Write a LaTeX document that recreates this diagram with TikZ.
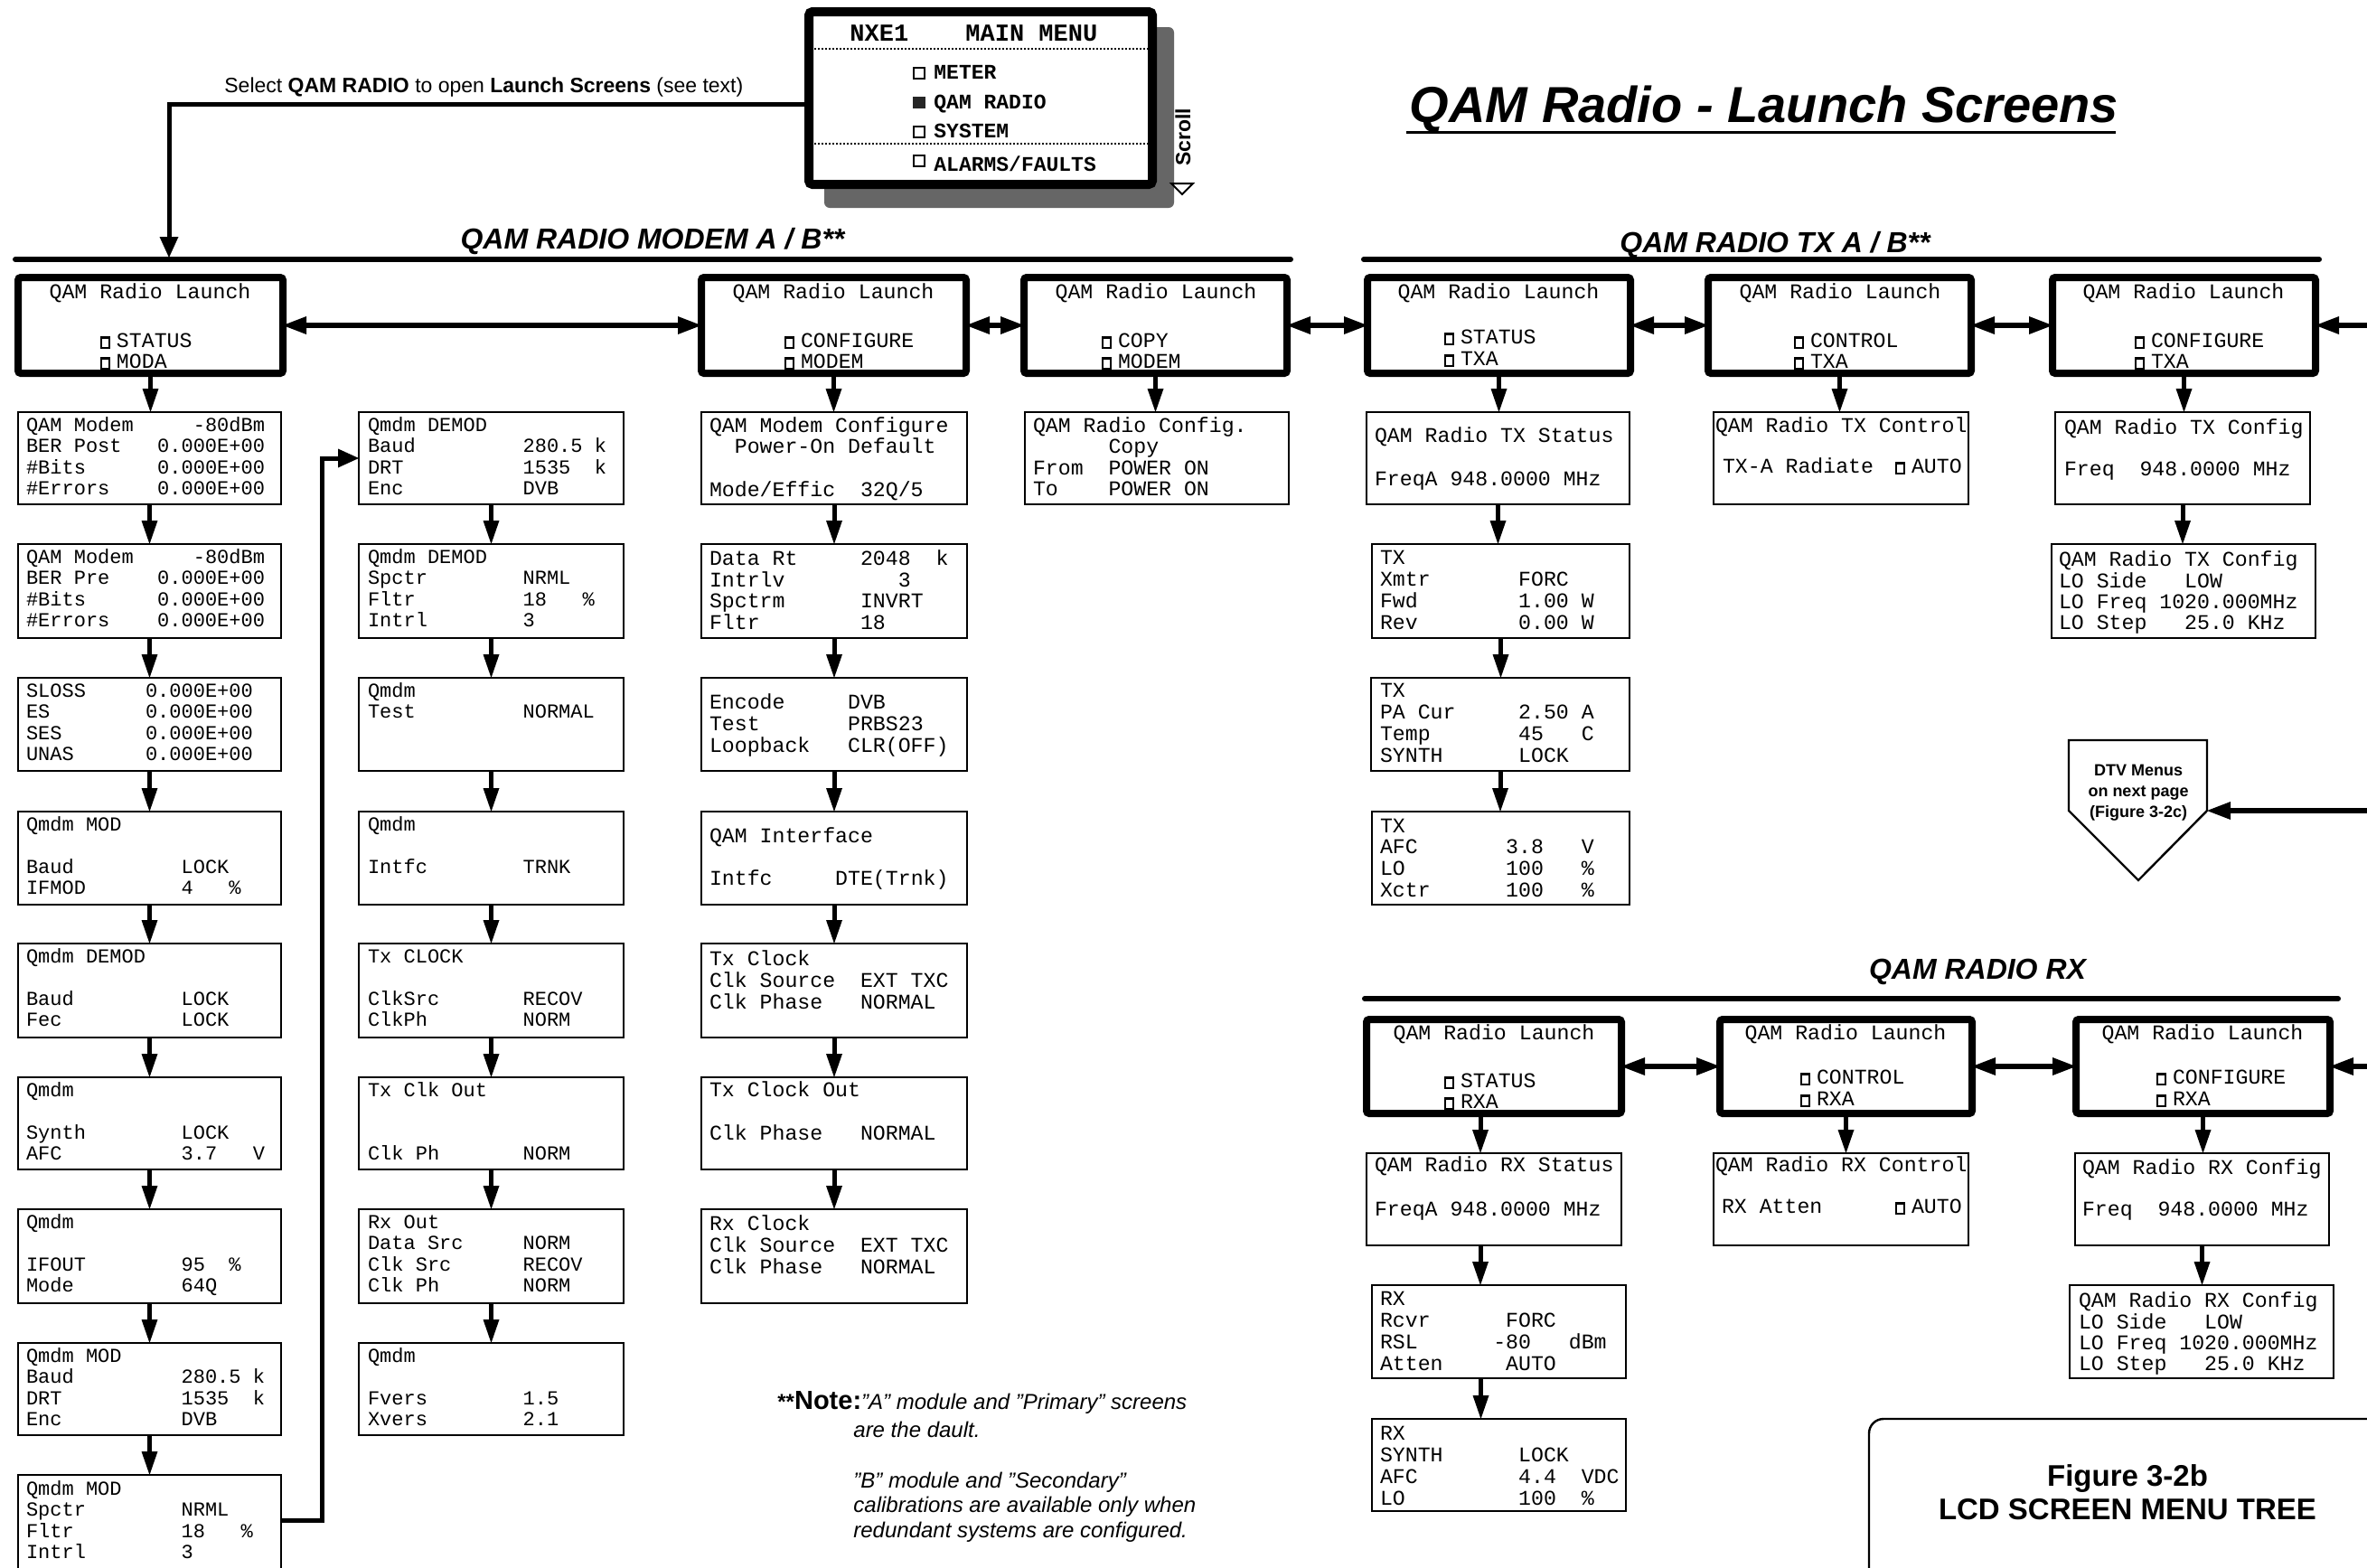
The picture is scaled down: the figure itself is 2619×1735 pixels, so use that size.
\documentclass[tikz,border=0pt]{standalone}
\usepackage{fontspec}
\setmainfont{Liberation Sans}
\newfontfamily\lcdfam{Liberation Mono}
\usetikzlibrary{arrows.meta}
\newcommand\lcdA{\lcdfam\fontsize{11pt}{10pt}\selectfont}
\newcommand\lcdB{\lcdfam\fontsize{11.6pt}{10pt}\selectfont}
\newcommand\headfont{\bfseries\itshape\fontsize{16pt}{18pt}\selectfont}
\newcommand\menufont{\lcdfam\bfseries\fontsize{11.5pt}{12pt}\selectfont}
\newcommand\lcdchk{\makebox[9pt][l]{\setlength\fboxsep{0pt}\setlength\fboxrule{1.2pt}\fbox{\rule{0pt}{4.6pt}\rule{3.1pt}{0pt}}}}
\tikzset{
 thinbox/.style={draw,line width=1.2pt,inner sep=0pt,outer sep=0pt},
 launchbox/.style={draw,line width=4pt,rounded corners=1.5pt,inner sep=0pt,outer sep=0pt},
 lcdt/.style={anchor=north west,inner sep=0pt,outer sep=0pt},
 ltitle/.style={anchor=base,inner sep=0pt,font=\lcdB},
 varr/.style={line width=2.5pt,-{Triangle[length=13pt,width=9pt,line width=0pt]}},
 sarr/.style={line width=3pt,-{Triangle[length=13pt,width=10pt,line width=0pt]}},
 darr/.style={line width=3pt,{Triangle[length=13pt,width=10pt,line width=0pt]}-{Triangle[length=13pt,width=10pt,line width=0pt]}},
 conn/.style={line width=2.5pt,-{Triangle[length=11.5pt,width=10.5pt,line width=0pt]}},
 hrule/.style={line width=3pt,line cap=round},
 plain/.style={anchor=base west,inner sep=0pt},
}
\newcommand\mybox[6][thinbox]{\node[#1,anchor=north west,minimum width={(#5-#3)*0.5pt},minimum height={(#6-#4)*0.5pt}] (#2) at (#3,#4) {};}
\newcommand\lcdtxt[6][\lcdA]{\pgfmathsetmacro\lcdas{#5/20}\node[lcdt,font=#1] (#2) at (#3,{#4-0.7*#5+7}) {\renewcommand\arraystretch{\lcdas}\begin{tabular}[t]{@{}l@{}}#6\end{tabular}};}
\newcommand\downarr[3][0pt]{\path ([xshift=#1]#2.south) coordinate (vtmp); \draw[varr] (vtmp) -- (vtmp |- #3.north);}
\begin{document}
\begin{tikzpicture}[x=0.5pt,y=-0.5pt]
\useasboundingbox (0,0) rectangle (2619,1735);
\fill[white] (0,0) rectangle (2619,1735);

% ---------- title
\node[anchor=base,inner sep=0pt,font=\bfseries\itshape\fontsize{28pt}{30pt}\selectfont] (title) at (1952,135) {QAM Radio - Launch Screens};
\draw[line width=1.5pt] (1556,146) -- (2341,146);

% ---------- main menu
\fill[black!60,rounded corners=3pt] (912,30) rectangle (1299,230);
\node[draw,line width=5pt,fill=white,rounded corners=2pt,inner sep=0pt,outer sep=0pt,anchor=north west,minimum width=190pt,minimum height=95.5pt] (menu) at (895,13) {};
\draw[line width=1pt,dash pattern=on 1pt off 1pt] (901,54) -- (1270,54);
\draw[line width=1pt,dash pattern=on 1pt off 1pt] (901,159) -- (1270,159);
\node[plain,font=\lcdfam\bfseries\fontsize{13.5pt}{14pt}\selectfont] (mt1) at (940,45) {NXE1};
\node[plain,font=\lcdfam\bfseries\fontsize{13.5pt}{14pt}\selectfont] (mt2) at (1068,45) {MAIN MENU};
\draw[line width=1pt] (1011,75) rectangle (1023,87);
\node[plain,font=\menufont] (mi1) at (1033,87) {METER};
\fill[black!85] (1010,107) rectangle (1024,120);
\node[plain,font=\menufont] (mi2) at (1033,120) {QAM RADIO};
\draw[line width=1pt] (1011,140) rectangle (1023,152);
\node[plain,font=\menufont] (mi3) at (1033,152) {SYSTEM};
\draw[line width=1pt] (1011,172) rectangle (1023,184);
\node[plain,font=\menufont] (mi4) at (1033,189) {ALARMS/FAULTS};
\node[rotate=90,inner sep=0pt,font=\bfseries\fontsize{11.5pt}{12pt}\selectfont] (scroll) at (1309,152) {Scroll};
\draw[line width=1pt] (1296,203) -- (1320,203) -- (1308,215) -- cycle;

% ---------- select label and connector
\node[plain,font=\fontsize{11.5pt}{13pt}\selectfont] (sel) at (248,102) {Select \textbf{QAM RADIO} to open \textbf{Launch Screens} (see text)};
\coordinate (rulehit) at (187,285);
\draw[conn] (menu.west |- 0,115) -| (rulehit);

% ---------- headings
\node[anchor=base,inner sep=0pt,font=\headfont] (hmod) at (722,275) {QAM RADIO MODEM A / B**};
\draw[hrule] (17,287) -- (1428,287);
\node[anchor=base,inner sep=0pt,font=\headfont] (htx) at (1964,279) {QAM RADIO TX A / B**};
\draw[hrule] (1509,287) -- (2566,287);
\node[anchor=base,inner sep=0pt,font=\headfont] (hrx) at (2188,1083) {QAM RADIO RX};
\draw[hrule] (1510,1105) -- (2587,1105);

% ---------- launch boxes
\mybox[launchbox]{l1}{20}{307}{313}{413}
\mybox[launchbox]{l2}{776}{307}{1069}{413}
\mybox[launchbox]{l3}{1133}{307}{1424}{413}
\mybox[launchbox]{lt1}{1513}{307}{1804}{413}
\mybox[launchbox]{lt2}{1890}{307}{2181}{413}
\mybox[launchbox]{lt3}{2271}{307}{2562}{413}
\mybox[launchbox]{lr1}{1512}{1128}{1794}{1232}
\mybox[launchbox]{lr2}{1903}{1128}{2182}{1232}
\mybox[launchbox]{lr3}{2297}{1128}{2578}{1232}
\node[ltitle] (l1t) at (166,330) {QAM Radio Launch};
\node[ltitle] (l2t) at (922,330) {QAM Radio Launch};
\node[ltitle] (l3t) at (1279,330) {QAM Radio Launch};
\node[ltitle] (lt1t) at (1658,330) {QAM Radio Launch};
\node[ltitle] (lt2t) at (2036,330) {QAM Radio Launch};
\node[ltitle] (lt3t) at (2416,330) {QAM Radio Launch};
\node[ltitle] (lr1t) at (1653,1150) {QAM Radio Launch};
\node[ltitle] (lr2t) at (2042,1150) {QAM Radio Launch};
\node[ltitle] (lr3t) at (2437,1150) {QAM Radio Launch};
\lcdtxt[\lcdB]{l1i}{111}{377}{23}{\lcdchk STATUS\\\lcdchk MODA}
\lcdtxt[\lcdB]{l2i}{868}{377}{23}{\lcdchk CONFIGURE\\\lcdchk MODEM}
\lcdtxt[\lcdB]{l3i}{1219}{377}{23}{\lcdchk COPY\\\lcdchk MODEM}
\lcdtxt[\lcdB]{lt1i}{1598}{373}{24}{\lcdchk STATUS\\\lcdchk TXA}
\lcdtxt[\lcdB]{lt2i}{1985}{377}{23}{\lcdchk CONTROL\\\lcdchk TXA}
\lcdtxt[\lcdB]{lt3i}{2362}{377}{23}{\lcdchk CONFIGURE\\\lcdchk TXA}
\lcdtxt[\lcdB]{lr1i}{1598}{1196}{23}{\lcdchk STATUS\\\lcdchk RXA}
\lcdtxt[\lcdB]{lr2i}{1992}{1192}{24}{\lcdchk CONTROL\\\lcdchk RXA}
\lcdtxt[\lcdB]{lr3i}{2386}{1192}{24}{\lcdchk CONFIGURE\\\lcdchk RXA}

% ---------- column 1 (status)
\mybox{c1b1}{20}{456}{311}{558}
\mybox{c1b2}{20}{602}{311}{706}
\mybox{c1b3}{20}{750}{311}{853}
\mybox{c1b4}{20}{898}{311}{1001}
\mybox{c1b5}{20}{1044}{311}{1148}
\mybox{c1b6}{20}{1192}{311}{1294}
\mybox{c1b7}{20}{1338}{311}{1442}
\mybox{c1b8}{20}{1486}{311}{1588}
\mybox{c1b9}{20}{1632}{311}{1745}
\lcdtxt{c1t1}{29}{470.6}{23.3}{QAM~Modem~~~~~-80dBm\\BER~Post~~~0.000E+00\\\#Bits~~~~~~0.000E+00\\\#Errors~~~~0.000E+00}
\lcdtxt{c1t2}{29}{616.6}{23.3}{QAM~Modem~~~~~-80dBm\\BER~Pre~~~~0.000E+00\\\#Bits~~~~~~0.000E+00\\\#Errors~~~~0.000E+00}
\lcdtxt{c1t3}{29}{764.6}{23.3}{SLOSS~~~~~0.000E+00\\ES~~~~~~~~0.000E+00\\SES~~~~~~~0.000E+00\\UNAS~~~~~~0.000E+00}
\lcdtxt{c1t4}{29}{912.6}{23.3}{Qmdm~MOD\\ \\Baud~~~~~~~~~LOCK\\IFMOD~~~~~~~~4~~~\%}
\lcdtxt{c1t5}{29}{1058.6}{23.3}{Qmdm~DEMOD\\ \\Baud~~~~~~~~~LOCK\\Fec~~~~~~~~~~LOCK}
\lcdtxt{c1t6}{29}{1206.6}{23.3}{Qmdm\\ \\Synth~~~~~~~~LOCK\\AFC~~~~~~~~~~3.7~~~V}
\lcdtxt{c1t7}{29}{1352.6}{23.3}{Qmdm\\ \\IFOUT~~~~~~~~95~~\%\\Mode~~~~~~~~~64Q}
\lcdtxt{c1t8}{29}{1500.6}{23.3}{Qmdm~MOD\\Baud~~~~~~~~~280.5~k\\DRT~~~~~~~~~~1535~~k\\Enc~~~~~~~~~~DVB}
\lcdtxt{c1t9}{29}{1647.6}{23.3}{Qmdm~MOD\\Spctr~~~~~~~~NRML\\Fltr~~~~~~~~~18~~~\%\\Intrl~~~~~~~~3}
\downarr{l1}{c1b1}
\downarr{c1b1}{c1b2}
\downarr{c1b2}{c1b3}
\downarr{c1b3}{c1b4}
\downarr{c1b4}{c1b5}
\downarr{c1b5}{c1b6}
\downarr{c1b6}{c1b7}
\downarr{c1b7}{c1b8}
\downarr{c1b8}{c1b9}

% ---------- column 2
\mybox{c2b1}{397}{456}{690}{558}
\mybox{c2b2}{397}{602}{690}{706}
\mybox{c2b3}{397}{750}{690}{853}
\mybox{c2b4}{397}{898}{690}{1001}
\mybox{c2b5}{397}{1044}{690}{1148}
\mybox{c2b6}{397}{1192}{690}{1294}
\mybox{c2b7}{397}{1338}{690}{1442}
\mybox{c2b8}{397}{1486}{690}{1588}
\lcdtxt{c2t1}{407}{470.6}{23.3}{Qmdm~DEMOD\\Baud~~~~~~~~~280.5~k\\DRT~~~~~~~~~~1535~~k\\Enc~~~~~~~~~~DVB}
\lcdtxt{c2t2}{407}{616.6}{23.3}{Qmdm~DEMOD\\Spctr~~~~~~~~NRML\\Fltr~~~~~~~~~18~~~\%\\Intrl~~~~~~~~3}
\lcdtxt{c2t3}{407}{764.6}{23.3}{Qmdm\\Test~~~~~~~~~NORMAL}
\lcdtxt{c2t4}{407}{912.6}{23.3}{Qmdm\\ \\Intfc~~~~~~~~TRNK}
\lcdtxt{c2t5}{407}{1058.6}{23.3}{Tx~CLOCK\\ \\ClkSrc~~~~~~~RECOV\\ClkPh~~~~~~~~NORM}
\lcdtxt{c2t6}{407}{1206.6}{23.3}{Tx~Clk~Out\\ \\ \\Clk~Ph~~~~~~~NORM}
\lcdtxt{c2t7}{407}{1352.6}{23.3}{Rx~Out\\Data~Src~~~~~NORM\\Clk~Src~~~~~~RECOV\\Clk~Ph~~~~~~~NORM}
\lcdtxt{c2t8}{407}{1500.6}{23.3}{Qmdm\\ \\Fvers~~~~~~~~1.5\\Xvers~~~~~~~~2.1}
\downarr{c2b1}{c2b2}
\downarr{c2b2}{c2b3}
\downarr{c2b3}{c2b4}
\downarr{c2b4}{c2b5}
\downarr{c2b5}{c2b6}
\downarr{c2b6}{c2b7}
\downarr{c2b7}{c2b8}
\coordinate (bend) at (356,507);
\draw[conn] (c1b9.east |- 0,1682) -| (bend) -- (c2b1.west |- bend);

% ---------- column 3 (configure)
\mybox{c3b1}{776}{456}{1070}{558}
\mybox{c3b2}{776}{602}{1070}{706}
\mybox{c3b3}{776}{750}{1070}{853}
\mybox{c3b4}{776}{898}{1070}{1001}
\mybox{c3b5}{776}{1044}{1070}{1148}
\mybox{c3b6}{776}{1192}{1070}{1294}
\mybox{c3b7}{776}{1338}{1070}{1442}
\lcdtxt[\lcdB]{c3t1}{785}{470.6}{23.3}{QAM~Modem~Configure\\~~Power-On~Default\\ \\Mode/Effic~~32Q/5}
\lcdtxt[\lcdB]{c3t2}{785}{618}{23.5}{Data~Rt~~~~~2048~~k\\Intrlv~~~~~~~~~3\\Spctrm~~~~~~INVRT\\Fltr~~~~~~~~18}
\lcdtxt[\lcdB]{c3t3}{785}{777}{24}{Encode~~~~~DVB\\Test~~~~~~~PRBS23\\Loopback~~~CLR(OFF)}
\lcdtxt[\lcdB]{c3t4}{785}{925}{23}{QAM~Interface\\ \\Intfc~~~~~DTE(Trnk)}
\lcdtxt[\lcdB]{c3t5}{785}{1061}{23}{Tx~Clock\\Clk~Source~~EXT~TXC\\Clk~Phase~~~NORMAL}
\lcdtxt[\lcdB]{c3t6}{785}{1206}{24}{Tx~Clock~Out\\ \\Clk~Phase~~~NORMAL}
\lcdtxt[\lcdB]{c3t7}{785}{1354}{23}{Rx~Clock\\Clk~Source~~EXT~TXC\\Clk~Phase~~~NORMAL}
\downarr{l2}{c3b1}
\downarr{c3b1}{c3b2}
\downarr{c3b2}{c3b3}
\downarr{c3b3}{c3b4}
\downarr{c3b4}{c3b5}
\downarr{c3b5}{c3b6}
\downarr{c3b6}{c3b7}

% ---------- column 4 (copy)
\mybox{c4b1}{1134}{456}{1426}{558}
\lcdtxt[\lcdB]{c4t1}{1143}{471}{23.3}{QAM~Radio~Config.\\~~~~~~Copy\\From~~POWER~ON\\To~~~~POWER~ON}
\downarr{l3}{c4b1}

% ---------- double arrows (top row)
\draw[darr] (l1.east) -- (l2.west);
\draw[darr] (l2.east) -- (l3.west);
\draw[darr] (l3.east) -- (lt1.west);
\draw[darr] (lt1.east) -- (lt2.west);
\draw[darr] (lt2.east) -- (lt3.west);
\coordinate (edgeT) at (2630,360);
\draw[sarr] (edgeT) -- (lt3.east);

% ---------- TX status column
\mybox{txs1}{1512}{456}{1803}{558}
\mybox{txs2}{1518}{602}{1803}{706}
\mybox{txs3}{1517}{750}{1803}{853}
\mybox{txs4}{1518}{898}{1803}{1001}
\lcdtxt[\lcdB]{txt1}{1521}{482}{24}{QAM~Radio~TX~Status\\ \\FreqA~948.0000~MHz}
\lcdtxt[\lcdB]{txt2}{1527}{617}{24.3}{TX\\Xmtr~~~~~~~FORC\\Fwd~~~~~~~~1.00~W\\Rev~~~~~~~~0.00~W}
\lcdtxt[\lcdB]{txt3}{1527}{764}{24.3}{TX\\PA~Cur~~~~~2.50~A\\Temp~~~~~~~45~~~C\\SYNTH~~~~~~LOCK}
\lcdtxt[\lcdB]{txt4}{1527}{914}{23.7}{TX\\AFC~~~~~~~3.8~~~V\\LO~~~~~~~~100~~~\%\\Xctr~~~~~~100~~~\%}
\downarr{lt1}{txs1}
\downarr{txs1}{txs2}
\downarr{txs2}{txs3}
\downarr{txs3}{txs4}

% ---------- TX control / config
\mybox{txc}{1896}{456}{2178}{558}
\lcdtxt[\lcdB]{txct1}{1898}{471}{23}{QAM~Radio~TX~Control}
\lcdtxt[\lcdB]{txct2}{1906}{516}{23}{TX-A~Radiate}
\lcdtxt[\lcdB]{txct3}{2097}{516}{23}{\lcdchk AUTO}
\downarr{lt2}{txc}
\mybox{txg1}{2274}{456}{2556}{558}
\mybox{txg2}{2270}{602}{2562}{706}
\lcdtxt[\lcdB]{txgt1}{2284}{473}{23}{QAM~Radio~TX~Config\\ \\Freq~~948.0000~MHz}
\lcdtxt[\lcdB]{txgt2}{2278}{619}{23.3}{QAM~Radio~TX~Config\\LO~Side~~~LOW\\LO~Freq~1020.000MHz\\LO~Step~~~25.0~KHz}
\downarr{lt3}{txg1}
\downarr{txg1}{txg2}

% ---------- DTV pentagon
\draw[line width=1.2pt] (2289,819) -- (2442,819) -- (2442,897) -- (2366,974) -- (2289,897) -- cycle;
\node[align=center,inner sep=0pt,font=\bfseries\fontsize{9pt}{11.5pt}\selectfont] (dtv) at (2366,877) {DTV Menus\\on next page\\(Figure 3-2c)};
\coordinate (dtvE) at (2442,897);
\coordinate (edgeD) at (2630,897);
\draw[sarr] (edgeD) -- (dtvE);

% ---------- RX section
\draw[darr] (lr1.east) -- (lr2.west);
\draw[darr] (lr2.east) -- (lr3.west);
\coordinate (edgeR) at (2630,1180);
\draw[sarr] (edgeR) -- (lr3.east);
\mybox{rxs1}{1512}{1276}{1794}{1378}
\mybox{rxs2}{1518}{1422}{1799}{1525}
\mybox{rxs3}{1518}{1570}{1799}{1672}
\lcdtxt[\lcdB]{rxt1}{1521}{1289}{24.5}{QAM~Radio~RX~Status\\ \\FreqA~948.0000~MHz}
\lcdtxt[\lcdB]{rxt2}{1527}{1437}{24}{RX\\Rcvr~~~~~~FORC\\RSL~~~~~~-80~~~dBm\\Atten~~~~~AUTO}
\lcdtxt[\lcdB]{rxt3}{1527}{1586}{24.3}{RX\\SYNTH~~~~~~LOCK\\AFC~~~~~~~~4.4~~VDC\\LO~~~~~~~~~100~~\%}
\downarr[-7.5pt]{lr1}{rxs1}
\downarr[-7.5pt]{rxs1}{rxs2}
\downarr[-10pt]{rxs2}{rxs3}
\mybox{rxc}{1896}{1276}{2178}{1378}
\lcdtxt[\lcdB]{rxct1}{1898}{1289}{23}{QAM~Radio~RX~Control}
\lcdtxt[\lcdB]{rxct2}{1905}{1335}{23}{RX~Atten}
\lcdtxt[\lcdB]{rxct3}{2097}{1335}{23}{\lcdchk AUTO}
\downarr{lr2}{rxc}
\mybox{rxg1}{2296}{1276}{2577}{1378}
\mybox{rxg2}{2290}{1422}{2582}{1525}
\lcdtxt[\lcdB]{rxgt1}{2304}{1292}{23}{QAM~Radio~RX~Config\\ \\Freq~~948.0000~MHz}
\lcdtxt[\lcdB]{rxgt2}{2300}{1439}{23.3}{QAM~Radio~RX~Config\\LO~Side~~~LOW\\LO~Freq~1020.000MHz\\LO~Step~~~25.0~KHz}
\downarr{lr3}{rxg1}
\downarr{rxg1}{rxg2}

% ---------- note
\node[plain,font=\fontsize{12pt}{14pt}\selectfont] (note1) at (860,1559) {\textbf{**}{\bfseries\fontsize{14.5pt}{16pt}\selectfont Note:}\textit{"A" module and "Primary" screens}};
\node[plain,font=\itshape\fontsize{12pt}{14pt}\selectfont] (note2) at (944,1590) {are the dault.};
\node[plain,font=\itshape\fontsize{12pt}{14pt}\selectfont] (note3) at (944,1646) {"B" module and "Secondary"};
\node[plain,font=\itshape\fontsize{12pt}{14pt}\selectfont] (note4) at (944,1673) {calibrations are available only when};
\node[plain,font=\itshape\fontsize{12pt}{14pt}\selectfont] (note5) at (944,1701) {redundant systems are configured.};

% ---------- figure box
\draw[line width=1.2pt,rounded corners=8pt] (2068,1570) rectangle (2700,1800);
\node[anchor=base,inner sep=0pt,font=\bfseries\fontsize{16.5pt}{18pt}\selectfont] (fig1) at (2354,1644) {Figure 3-2b};
\node[anchor=base,inner sep=0pt,font=\bfseries\fontsize{16.5pt}{18pt}\selectfont] (fig2) at (2354,1681) {LCD SCREEN MENU TREE};
\end{tikzpicture}
\end{document}
